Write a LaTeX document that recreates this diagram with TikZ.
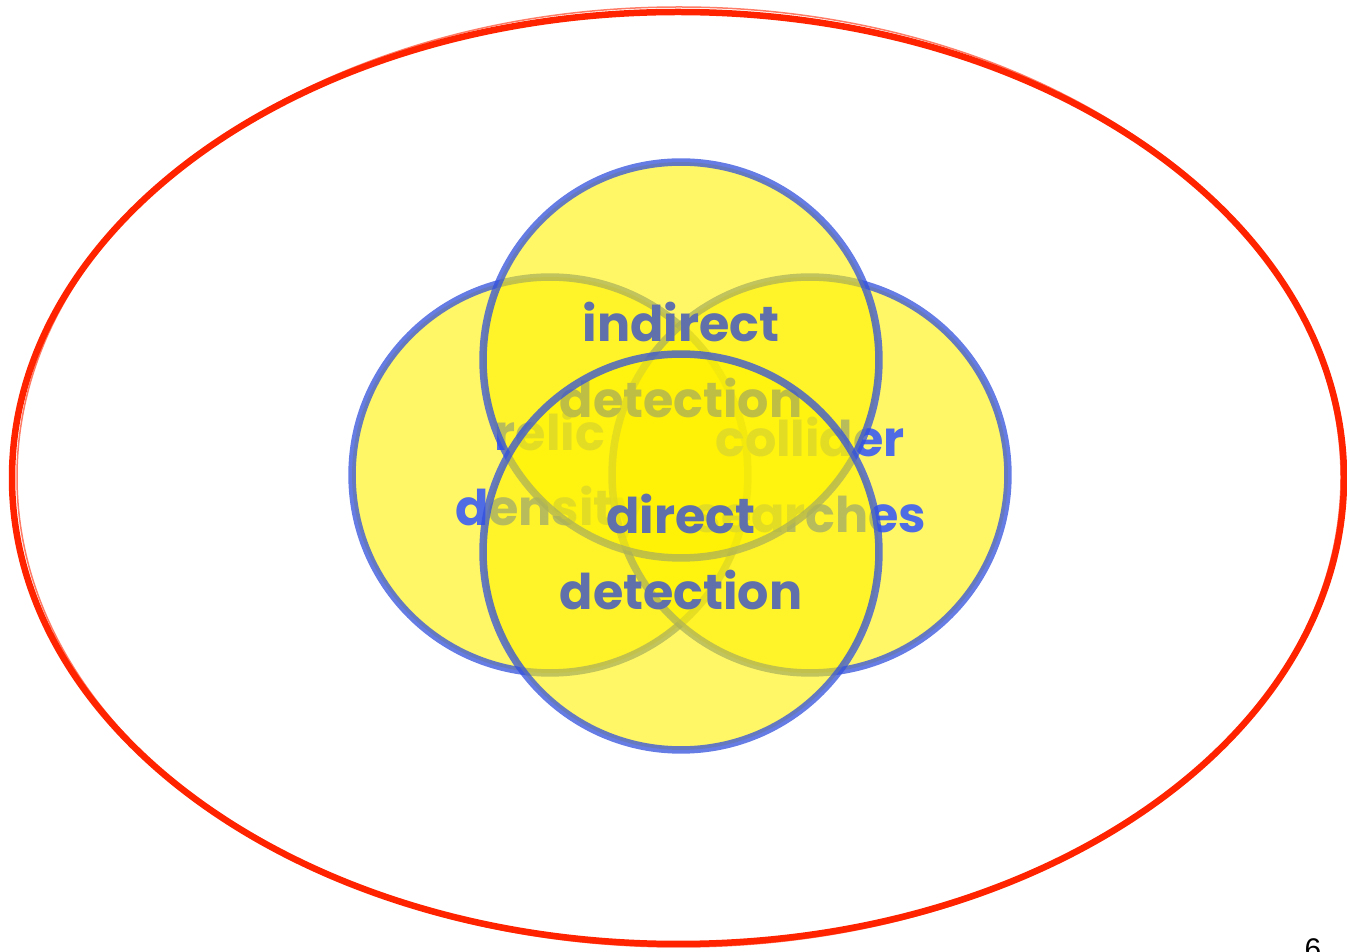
\documentclass[tikz,border=0pt]{standalone}
\usepackage{fontspec}
\newfontfamily\vennfont{Poppins}
\newfontfamily\pagefont{Liberation Sans}
\definecolor{vennblue}{RGB}{50,80,220}
\definecolor{textblue}{RGB}{80,108,228}
\definecolor{slateblue}{RGB}{95,112,170}
\definecolor{ellred}{RGB}{255,35,0}

\begin{document}
\begin{tikzpicture}[x=0.02cm,y=-0.02cm,
  disc/.style={circle,minimum size=7.92cm,inner sep=0pt,fill=yellow,fill opacity=0.6,
    draw=vennblue,draw opacity=0.75,line width=0.15cm,text opacity=1,align=center,
    font=\vennfont\bfseries\fontsize{28}{43}\selectfont},
  rim/.style={ellred,line width=0.13cm}
]
\useasboundingbox (0,0) rectangle (1347,952);
% outer ellipse
\draw[rim] (678,478) ellipse [x radius=666, y radius=466];
\draw[ellred,line width=0.03cm,opacity=0.6] (679,477) ellipse [x radius=662, y radius=470];

% the four regions, drawn back to front
\node[disc,text=textblue] (relic) at (550,475) {relic\\density};
\node[disc,text=textblue] (collider) at (810,475) {collider\\searches};
\node[disc,text=slateblue] (indirect) at (681,360) {indirect\\detection};
\node[disc,text=slateblue] (direct) at (681,552) {direct\\detection};

\node[font=\pagefont\fontsize{17}{17}\selectfont,inner sep=0pt,anchor=north] (page) at (1313,938) {6};
\end{tikzpicture}
\end{document}
